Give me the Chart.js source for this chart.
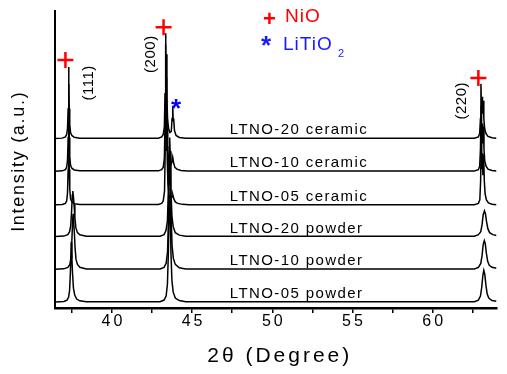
<!DOCTYPE html>
<html>
<head>
<meta charset="utf-8">
<script src="https://cdn.jsdelivr.net/npm/chart.js@4"></script>
<style>
  html, body { margin: 0; padding: 0; background: #fff; }
  canvas { display: block; }
</style>
</head>
<body>
<canvas id="xrd" width="507" height="374"></canvas>
<script>
const FONT = "'Liberation Sans', Arial, Helvetica, sans-serif";

// curve names, top to bottom, and the vertical offset (a.u.) of each baseline
const curveNames = ["LTNO-20 ceramic", "LTNO-10 ceramic", "LTNO-05 ceramic",
                    "LTNO-20 powder", "LTNO-10 powder", "LTNO-05 powder"];
const curveOffsets = [171, 138, 104, 72, 39, 6];

// [2theta, intensity above own baseline]
const ceramic20 = [
  [36.45,0],[36.9,0.3],[37.1,1.5],[37.18,4],[37.23,10],[37.27,30],[37.30,72],[37.32,50],[37.34,30],[37.37,14],[37.42,6],[37.5,3],[37.65,1.2],[38.0,0.3],
  [42.9,0.3],[43.1,1.5],[43.2,4],[43.27,12],[43.31,45],[43.34,106],[43.37,70],[43.40,85],[43.43,40],[43.47,20],[43.53,10],[43.62,6],[43.7,7],[43.75,20],[43.79,33],[43.82,18],[43.85,20],[43.9,8],[44.0,3],[44.2,1],[44.6,0.2],
  [62.6,0.2],[62.85,1.5],[62.93,5],[62.98,20],[63.01,55],[63.04,30],[63.08,42],[63.11,25],[63.15,38],[63.19,20],[63.24,10],[63.32,5],[63.45,2],[63.7,0.6],[63.98,0.2]
];
const ceramic10 = [
  [36.45,0],[36.9,0.3],[37.1,1.5],[37.18,4],[37.23,11],[37.27,34],[37.30,88],[37.32,60],[37.34,34],[37.37,15],[37.42,6],[37.5,3],[37.65,1.2],[38.0,0.3],
  [42.9,0.3],[43.1,1.5],[43.2,4],[43.27,13],[43.31,50],[43.35,128],[43.38,80],[43.41,95],[43.44,42],[43.48,20],[43.55,10],[43.65,6],[43.74,9],[43.79,14],[43.84,9],[43.92,4],[44.05,2],[44.3,0.6],[44.7,0.2],
  [62.6,0.2],[62.85,1.5],[62.93,5],[62.98,22],[63.02,66],[63.05,34],[63.09,48],[63.12,28],[63.16,45],[63.2,22],[63.25,10],[63.33,5],[63.45,2],[63.7,0.6],[63.98,0.2]
];
const ceramic05 = [
  [36.45,0],[36.9,0.3],[37.1,1.5],[37.18,4],[37.23,12],[37.27,36],[37.30,96],[37.32,64],[37.34,36],[37.37,16],[37.42,6],[37.5,3],[37.65,1.2],[38.0,0.3],
  [42.9,0.3],[43.1,1.5],[43.2,4],[43.28,14],[43.32,55],[43.36,140],[43.39,86],[43.42,100],[43.45,45],[43.49,21],[43.56,10],[43.66,6],[43.75,8],[43.8,10],[43.86,6],[43.95,3],[44.1,1.5],[44.4,0.5],[44.8,0.2],
  [62.6,0.2],[62.85,1.5],[62.94,5],[62.99,24],[63.03,72],[63.06,36],[63.1,52],[63.13,30],[63.18,50],[63.22,24],[63.27,11],[63.35,5],[63.48,2],[63.7,0.6],[63.98,0.2]
];
const powder20 = [
  [36.45,0],[37.0,0.5],[37.25,2],[37.36,5],[37.43,11],[37.48,24],[37.53,42],[37.56,46],[37.6,40],[37.64,32],[37.69,19],[37.75,9],[37.85,4],[38.0,1.8],[38.4,0.4],
  [43.0,0.4],[43.25,2],[43.37,6],[43.46,16],[43.52,48],[43.57,90],[43.6,100],[43.63,86],[43.68,48],[43.74,21],[43.82,10],[43.95,4],[44.2,1.5],[44.6,0.3],
  [62.6,0.3],[62.85,2],[63.0,5],[63.08,12],[63.15,22],[63.23,26],[63.29,23],[63.36,15],[63.44,8],[63.55,4],[63.75,2],[63.98,1.2]
];
const powder10 = [
  [36.45,0],[37.0,0.5],[37.25,2],[37.38,5],[37.45,12],[37.5,28],[37.55,50],[37.58,56],[37.62,46],[37.66,36],[37.7,22],[37.76,10],[37.85,5],[38.0,2],[38.4,0.4],
  [43.0,0.4],[43.25,2],[43.38,6],[43.47,18],[43.53,55],[43.58,105],[43.61,118],[43.64,100],[43.69,55],[43.75,24],[43.83,11],[43.95,5],[44.2,1.5],[44.6,0.3],
  [62.6,0.3],[62.85,2],[63.0,6],[63.08,14],[63.15,25],[63.22,29],[63.28,26],[63.35,16],[63.43,8],[63.53,4],[63.7,2],[63.98,1]
];
const powder05 = [
  [36.45,0],[37.0,0.5],[37.2,2],[37.3,5],[37.36,12],[37.41,30],[37.45,55],[37.47,60],[37.5,52],[37.54,30],[37.6,14],[37.68,7],[37.8,3],[38.0,1.2],[38.4,0.3],
  [43.0,0.4],[43.25,2],[43.38,6],[43.46,18],[43.52,50],[43.57,95],[43.6,108],[43.63,95],[43.68,50],[43.74,22],[43.82,10],[43.95,4],[44.2,1.5],[44.6,0.3],
  [62.6,0.3],[62.85,2],[62.98,6],[63.06,15],[63.13,27],[63.19,32],[63.25,28],[63.32,17],[63.4,8],[63.5,4],[63.7,1.5],[63.98,0.8]
];
const curves = [ceramic20, ceramic10, ceramic05, powder20, powder10, powder05];

// x axis ticks (labels only on multiples of 5)
const xTicks = [37.5, 40, 42.5, 45, 47.5, 50, 52.5, 55, 57.5, 60, 62.5];

// NiO marks (+) and LiTiO2 mark (*)
const nioX = [37.1, 43.22, 62.85];
const nioY = [250, 283, 232];
const litioX = [44.0];
const litioY = [205];

// Miller indices, rotated labels
const hklText = ["(111)", "(200)", "(220)"];
const hklX = [38.55, 42.45, 61.79];
const hklY = [227, 256, 209];

const labelX = 47.35;

const datasets = curves.map((pts, i) => ({
  label: curveNames[i],
  data: pts.map(([x, y]) => ({ x, y: y + curveOffsets[i] })),
  showLine: true,
  borderColor: "#000",
  borderWidth: 1.5,
  pointRadius: 0,
  tension: 0,
}));
datasets.push({
  label: "NiO",
  data: nioX.map((x, i) => ({ x, y: nioY[i] })),
  showLine: false,
  pointStyle: "cross",
  pointRadius: 8,
  borderColor: "#ff0000",
  borderWidth: 2.5,
});

const annotations = {
  id: "annotations",
  beforeDraw(chart) {
    chart.ctx.letterSpacing = "3px";
  },
  afterDraw(chart) {
    const { ctx, scales: { x, y }, chartArea } = chart;
    ctx.save();
    ctx.fillStyle = "#000";

    // curve names
    ctx.font = `15px ${FONT}`;
    ctx.letterSpacing = "1.4px";
    ctx.textAlign = "left";
    ctx.textBaseline = "alphabetic";
    curveNames.forEach((name, i) => {
      ctx.fillText(name, x.getPixelForValue(labelX), y.getPixelForValue(curveOffsets[i]) - 4);
    });

    // hkl labels
    ctx.font = `15px ${FONT}`;
    ctx.letterSpacing = "0.5px";
    ctx.textAlign = "center";
    ctx.textBaseline = "middle";
    hklText.forEach((t, i) => {
      ctx.save();
      ctx.translate(x.getPixelForValue(hklX[i]), y.getPixelForValue(hklY[i]));
      ctx.rotate(-Math.PI / 2);
      ctx.fillText(t, 0, 0);
      ctx.restore();
    });

    // LiTiO2 asterisk
    ctx.fillStyle = "#0000ff";
    ctx.font = `bold 26px ${FONT}`;
    ctx.letterSpacing = "0px";
    litioX.forEach((v, i) => {
      ctx.fillText("*", x.getPixelForValue(v), y.getPixelForValue(litioY[i]) + 5);
    });

    // legend
    ctx.textAlign = "left";
    ctx.textBaseline = "alphabetic";
    ctx.fillStyle = "#ff0000";
    ctx.font = `bold 22px ${FONT}`;
    ctx.fillText("+", 263, 26);
    ctx.font = `19px ${FONT}`;
    ctx.letterSpacing = "1px";
    ctx.fillText("NiO", 285, 22);
    ctx.fillStyle = "#1a1aff";
    ctx.font = `bold 26px ${FONT}`;
    ctx.letterSpacing = "0px";
    ctx.fillText("*", 261, 54);
    ctx.font = `19px ${FONT}`;
    ctx.letterSpacing = "1px";
    ctx.fillText("LiTiO", 283, 50);
    ctx.font = `11px ${FONT}`;
    ctx.fillText("2", 338, 57);

    // axis titles
    ctx.fillStyle = "#000";
    ctx.textAlign = "center";
    ctx.textBaseline = "middle";
    ctx.font = `21px ${FONT}`;
    ctx.letterSpacing = "3px";
    ctx.fillText("2\u03b8 (Degree)", (chartArea.left + chartArea.right) / 2 + 4, 356);
    ctx.save();
    ctx.translate(19, (chartArea.top + chartArea.bottom) / 2 + 2);
    ctx.rotate(-Math.PI / 2);
    ctx.font = `18px ${FONT}`;
    ctx.letterSpacing = "1.7px";
    ctx.fillText("Intensity (a.u.)", 0, 0);
    ctx.restore();

    ctx.restore();
  },
};

new Chart(document.getElementById("xrd"), {
  type: "scatter",
  data: { datasets },
  options: {
    responsive: false,
    animation: false,
    devicePixelRatio: 1,
    layout: { padding: { top: 8, left: 0, right: 0, bottom: 0 } },
    plugins: { legend: { display: false }, tooltip: { enabled: false } },
    scales: {
      x: {
        type: "linear",
        min: 36.45,
        max: 63.98,
        afterBuildTicks: (s) => { s.ticks = xTicks.map((v) => ({ value: v })); },
        afterFit: (s) => { s.height = 66; },
        grid: { display: true, drawOnChartArea: false, drawTicks: true, tickLength: 5, color: "#000", lineWidth: 1.5 },
        border: { display: true, color: "#000", width: 2.5 },
        ticks: {
          autoSkip: false,
          maxRotation: 0,
          padding: 1,
          labelOffset: 1.5,
          color: "#000",
          font: { family: FONT, size: 16, lineHeight: 1 },
          callback: (v) => (v % 5 === 0 ? String(v) : ""),
        },
      },
      y: {
        type: "linear",
        min: 0,
        max: 300,
        afterFit: (s) => { s.width = 55; },
        grid: { display: false },
        border: { display: true, color: "#000", width: 2 },
        ticks: { display: false },
      },
    },
  },
  plugins: [annotations],
});
</script>
</body>
</html>
